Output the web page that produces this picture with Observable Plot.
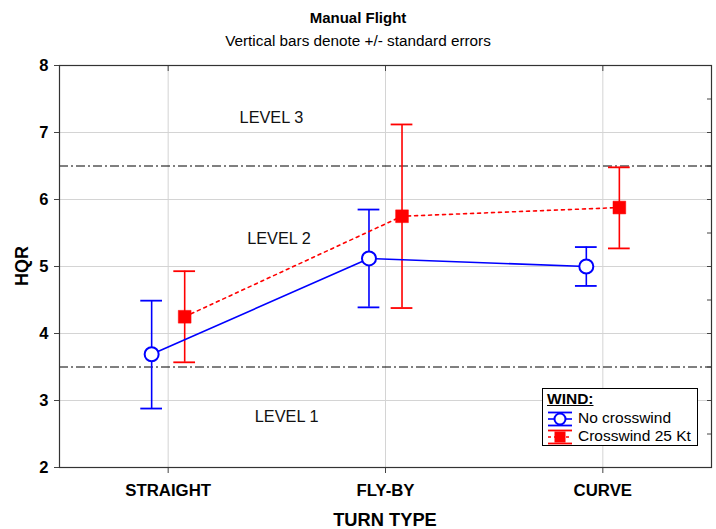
<!DOCTYPE html>
<html>
<head>
<meta charset="utf-8">
<script src="https://cdn.jsdelivr.net/npm/d3@7"></script>
<script src="https://cdn.jsdelivr.net/npm/@observablehq/plot@0.6"></script>
<style>
  body { margin: 0; background: #fff; }
  #wrap { position: relative; width: 716px; height: 529px; font-family: "Liberation Sans", Arial, sans-serif; color: #000; overflow: hidden; }
  .abs { position: absolute; line-height: 1.15; }
  #title { top: 9px; left: 0; width: 716px; text-align: center; font-weight: bold; font-size: 15px; }
  #subtitle { top: 32px; left: 0; width: 716px; text-align: center; font-size: 15.3px; }
  #chart { top: 52px; left: 0; }
  #xlabel { top: 509px; left: 59px; width: 652px; text-align: center; font-weight: bold; font-size: 18.3px; }
  #ylabel { top: 266px; left: 22px; transform: translate(-50%, -50%) rotate(-90deg); font-weight: bold; font-size: 18px; }
  #legend { top: 388px; left: 542px; width: 154px; height: 56px; border: 1px solid #000; background: #fff; font-size: 15.5px; }
  #legend .head { position: absolute; left: 4px; top: 1px; font-weight: bold; text-decoration: underline; }
  #legend .row { position: absolute; left: 4px; height: 18px; line-height: 18px; white-space: nowrap; }
  #legend svg { vertical-align: middle; margin-right: 5px; }
</style>
</head>
<body>
<div id="wrap">
  <div id="title" class="abs">Manual Flight</div>
  <div id="subtitle" class="abs">Vertical bars denote +/- standard errors</div>
  <div id="chart" class="abs"></div>
  <div id="xlabel" class="abs">TURN TYPE</div>
  <div id="ylabel" class="abs">HQR</div>
  <div id="legend" class="abs"></div>
</div>
<script>
// ---- data ----
const turnTypes = ["STRAIGHT", "FLY-BY", "CURVE"];
const seriesNames = ["No crosswind", "Crosswind 25 Kt"];
const noWindMean = [3.69, 5.12, 5.00];
const noWindLow  = [2.88, 4.39, 4.71];
const noWindHigh = [4.49, 5.85, 5.29];
const windMean = [4.25, 5.75, 5.88];
const windLow  = [3.57, 4.38, 5.27];
const windHigh = [4.93, 7.12, 6.48];
const levelBounds = [3.5, 6.5];
const levelNames = ["LEVEL 1", "LEVEL 2", "LEVEL 3"];
const levelY = [2.75, 5.42, 7.22];
const levelX = [0.545, 0.51, 0.475];
const yTicks = [2, 3, 4, 5, 6, 7, 8];
const legendTitle = "WIND:";

// ---- build tables ----
const offset = 0.076; // horizontal dodge between series (in category units)
const capHalf = 0.05;
function rows(mean, low, high, shift, series) {
  return turnTypes.map((t, i) => ({ t, series, x: i + shift, y: mean[i], lo: low[i], hi: high[i] }));
}
const blue = rows(noWindMean, noWindLow, noWindHigh, -offset, seriesNames[0]);
const red = rows(windMean, windLow, windHigh, offset, seriesNames[1]);
const levels = levelNames.map((name, i) => ({ name, x: levelX[i], y: levelY[i] }));

const caps = (data) => data.flatMap(d => [
  { x1: d.x - capHalf, x2: d.x + capHalf, y: d.lo },
  { x1: d.x - capHalf, x2: d.x + capHalf, y: d.hi }
]);

const BLUE = "#0000ff", RED = "#ff0000";

const chart = Plot.plot({
  width: 716,
  height: 477,
  marginTop: 13,
  marginBottom: 62,
  marginLeft: 59,
  marginRight: 5,
  style: { fontFamily: "'Liberation Sans', Arial, sans-serif", background: "transparent" },
  x: { type: "linear", domain: [-0.5, turnTypes.length - 0.5] },
  y: { domain: [2, 8] },
  marks: [
    Plot.gridY(yTicks, { stroke: "#d4d4d4", strokeOpacity: 1, strokeWidth: 1 }),
    Plot.gridX(d3.range(turnTypes.length), { stroke: "#d4d4d4", strokeOpacity: 1, strokeWidth: 1 }),
    Plot.ruleY(levelBounds, { stroke: "#000", strokeWidth: 1, strokeDasharray: "9,3,2,3" }),
    Plot.text(levels, { x: "x", y: "y", text: "name", fontSize: 16.3, fill: "#111" }),
    // error bars
    Plot.ruleX(blue, { x: "x", y1: "lo", y2: "hi", stroke: BLUE, strokeWidth: 1.6 }),
    Plot.ruleY(caps(blue), { x1: "x1", x2: "x2", y: "y", stroke: BLUE, strokeWidth: 1.8 }),
    Plot.ruleX(red, { x: "x", y1: "lo", y2: "hi", stroke: RED, strokeWidth: 1.6 }),
    Plot.ruleY(caps(red), { x1: "x1", x2: "x2", y: "y", stroke: RED, strokeWidth: 1.8 }),
    // lines
    Plot.line(blue, { x: "x", y: "y", stroke: BLUE, strokeWidth: 1.6 }),
    Plot.line(red, { x: "x", y: "y", stroke: RED, strokeWidth: 1.6, strokeDasharray: "3,4" }),
    // points
    Plot.dot(blue, { x: "x", y: "y", r: 7, fill: "#fff", stroke: BLUE, strokeWidth: 2 }),
    Plot.dot(red, { x: "x", y: "y", r: 7.2, symbol: "square", fill: RED, stroke: RED, strokeWidth: 0.5 }),
    // axes
    Plot.axisY(yTicks, { tickSize: 5, tickPadding: 6, fontSize: 16.5, fontWeight: "bold", label: null, stroke: "#444",
      tickFormat: d3.format("d") }),
    Plot.axisX(d3.range(turnTypes.length), { tickSize: 6, tickPadding: 11, fontSize: 16.8, fontWeight: "bold", label: null, stroke: "#444",
      tickFormat: i => turnTypes[i] }),
    Plot.axisX(d3.range(turnTypes.length), { anchor: "top", tickSize: -5, tickFormat: () => "", label: null, stroke: "#444" }),
    Plot.axisY(d3.range(2, 8.01, 0.5), { anchor: "right", tickSize: -5, tickFormat: () => "", label: null, stroke: "#444" }),
    Plot.frame({ stroke: "#333", strokeWidth: 1.2 })
  ]
});
document.getElementById("chart").appendChild(chart);

// ---- legend ----
const legend = document.getElementById("legend");
legend.innerHTML = `<div class="head">${legendTitle}</div>` +
  `<div class="row" style="top:20px">
     <svg width="26" height="16"><line x1="1" x2="25" y1="1.5" y2="1.5" stroke="${BLUE}" stroke-width="1.8"/><line x1="1" x2="25" y1="14.5" y2="14.5" stroke="${BLUE}" stroke-width="1.8"/><line x1="1" x2="25" y1="8" y2="8" stroke="${BLUE}" stroke-width="1.6"/><circle cx="13" cy="8" r="5.5" fill="#fff" stroke="${BLUE}" stroke-width="2"/></svg>${seriesNames[0]}</div>` +
  `<div class="row" style="top:38px">
     <svg width="26" height="16"><line x1="1" x2="25" y1="1.5" y2="1.5" stroke="${RED}" stroke-width="1.8"/><line x1="1" x2="25" y1="14.5" y2="14.5" stroke="${RED}" stroke-width="1.8"/><line x1="1" x2="25" y1="8" y2="8" stroke="${RED}" stroke-width="1.6" stroke-dasharray="3,3"/><rect x="7.5" y="2.5" width="11" height="11" fill="${RED}"/></svg>${seriesNames[1]}</div>`;
</script>
</body>
</html>
